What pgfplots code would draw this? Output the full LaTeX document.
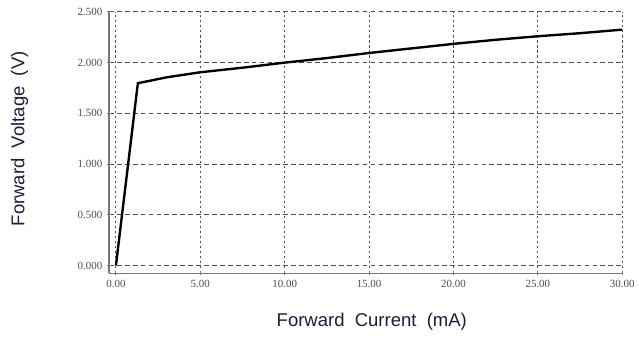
\documentclass[border=0pt]{standalone}
\usepackage{pgfplots}
\pgfplotsset{compat=1.18}
\usepackage{fontspec}
\setmainfont{Liberation Sans}
\newfontfamily\tickfont{Liberation Serif}
\definecolor{labcol}{RGB}{28,28,58}
\definecolor{axcol}{RGB}{120,120,120}
\definecolor{gridcol}{RGB}{80,80,80}
\begin{document}
\begin{tikzpicture}
\begin{axis}[
  name=a,
  scale only axis,
  width=388.5pt, height=198pt,
  xmin=-0.41, xmax=30, ymin=-0.078, ymax=2.5,
  axis x line*=bottom, axis y line*=left,
  axis line style={-, axcol, line width=1.4pt},
  xtick={0,5,10,15,20,25,30},
  ytick={0,0.5,1,1.5,2,2.5},
  grid=major,
  x grid style={gridcol, line width=0.85pt, dash pattern=on 1.6pt off 2.2pt},
  y grid style={gridcol, line width=0.85pt, dash pattern=on 3.6pt off 2.4pt},
  tick style={axcol, line width=0.7pt},
  major tick length=3pt,
  tick align=center,
  ticklabel style={font=\tickfont\fontsize{8.3}{9}\selectfont, text=black!70},
  /pgf/number format/assume math mode=true,
  xticklabel style={/pgf/number format/.cd, fixed, fixed zerofill, precision=2},
  yticklabel style={/pgf/number format/.cd, fixed, fixed zerofill, precision=3},
  xlabel={Forward\ \ Current\ \ (mA)},
  ylabel={Forward\ \ Voltage\ \ (V)},
  label style={font=\fontsize{14}{16}\selectfont, text=labcol},
  xlabel style={at={(axis description cs:0.512,-0.186)}, anchor=center},
  ylabel style={at={(axis description cs:-0.174,0.515)}, anchor=center, rotate=0},
]
\addplot[black, line width=1.8pt] coordinates {
  (0,0) (1.3,1.797) (3,1.855) (5,1.905) (7.5,1.95) (10,2.0) (12.5,2.045) (15,2.095)
  (17.5,2.14) (20,2.185) (22.5,2.225) (25,2.26) (27.5,2.29) (30,2.325)
};
\end{axis}
\path[use as bounding box] ([shift={(-82.5pt,-55.5pt)}]a.south west) rectangle ([shift={(396.75pt,207pt)}]a.south west);
\end{tikzpicture}
\end{document}
